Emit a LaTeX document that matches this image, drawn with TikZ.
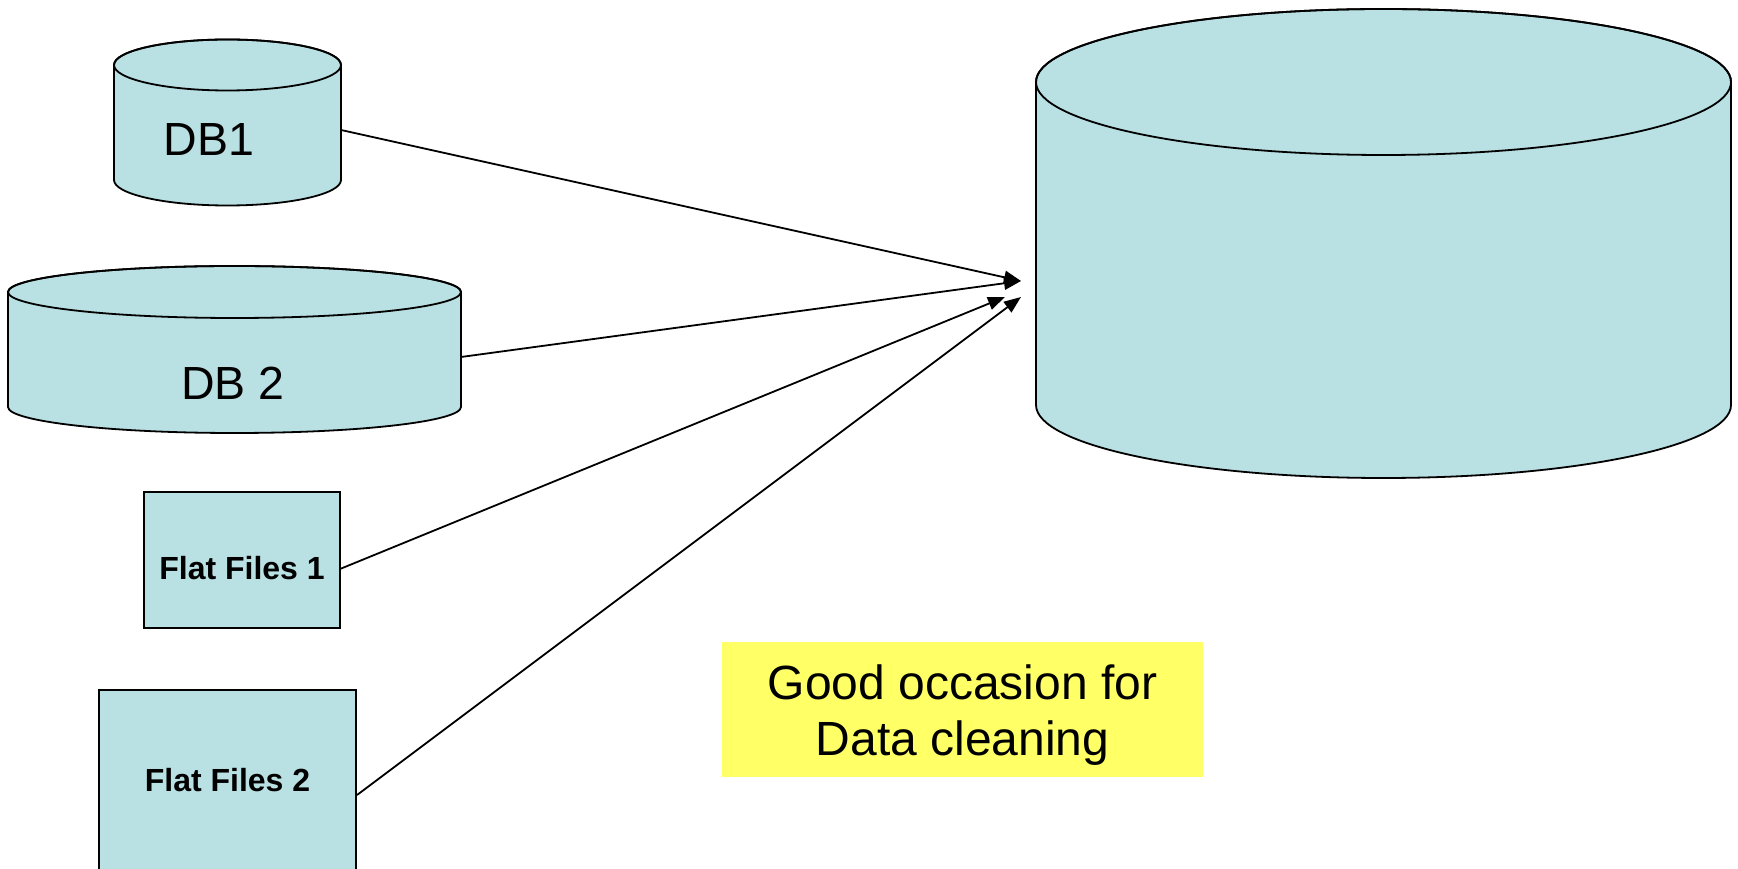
\documentclass[tikz,border=0pt]{standalone}
\usepackage{fontspec}
\setmainfont{Liberation Sans}
\usetikzlibrary{arrows.meta}
\definecolor{storefill}{RGB}{185,224,227}
\definecolor{notefill}{RGB}{255,255,102}

% cylinder: left x, right x, top-rim centre y, bottom-rim centre y, rim half-height
\newcommand\storecyl[5]{%
  \pgfmathsetmacro\cylrx{(#2-#1)/2}%
  \pgfmathsetmacro\cylcx{(#1+#2)/2}%
  \draw[cylline,fill=storefill] (#1,#3) -- (#1,#4)
    arc[start angle=180,end angle=360,x radius=\cylrx pt,y radius=#5pt]
    -- (#2,#3)
    arc[start angle=0,end angle=180,x radius=\cylrx pt,y radius=#5pt] -- cycle;
  \draw[cylline] (\cylcx,#3) ellipse[x radius=\cylrx pt,y radius=#5pt];
}

\begin{document}
\begin{tikzpicture}[x=1pt,y=1pt,
  cylline/.style={line width=1.8pt,black},
  dblabel/.style={font=\fontsize{46.5}{50}\selectfont},
  filebox/.style={draw=black,line width=1.8pt,fill=storefill,inner sep=0pt,
    font=\bfseries\fontsize{32}{36}\selectfont},
  notebox/.style={fill=notefill,inner sep=0pt},
  notetext/.style={align=center,font=\fontsize{48}{56}\selectfont},
  feed/.style={line width=1.8pt,-{Triangle[length=17pt,width=13pt]}}]
\useasboundingbox (0,0) rectangle (1738,868);
\clip (0,0) rectangle (1738,868);

% source databases
\storecyl{114}{341}{803}{688}{25.5}
\node[dblabel] (db1) at (209,728) {DB1};
\storecyl{8}{461}{576}{461}{26}
\node[dblabel] (db2) at (233,485) {DB 2};

% target warehouse
\storecyl{1036}{1731}{786}{463}{73}
\node (dw) at (1383,600) {};

% flat file sources
\node[filebox,minimum width=196pt,minimum height=136pt,
  text height=40pt,text depth=0pt] (ff1) at (242,308) {Flat Files 1};
\node[filebox,minimum width=257pt,minimum height=186pt,
  text height=23pt,text depth=7pt] (ff2) at (227.5,85) {Flat Files 2};

% note
\node[notebox,minimum width=481pt,minimum height=135pt,
  label={[notetext,yshift=-6pt]center:{Good occasion for\\Data cleaning}}]
  (note) at (962.5,158.5) {};

% connector end points
\coordinate (db1out) at (341,738);
\coordinate (db2out) at (461,511);
\coordinate (ff1out) at (340,299);
\coordinate (ff2out) at (357,73);
\coordinate (inA) at (1021,587);
\coordinate (inB) at (1005,571);
\coordinate (inC) at (1021,571);

\draw[feed] (db1out) -- (inA);
\draw[feed] (db2out) -- (inA);
\draw[feed] (ff1out) -- (inB);
\draw[feed] (ff2out) -- (inC);
\end{tikzpicture}
\end{document}
